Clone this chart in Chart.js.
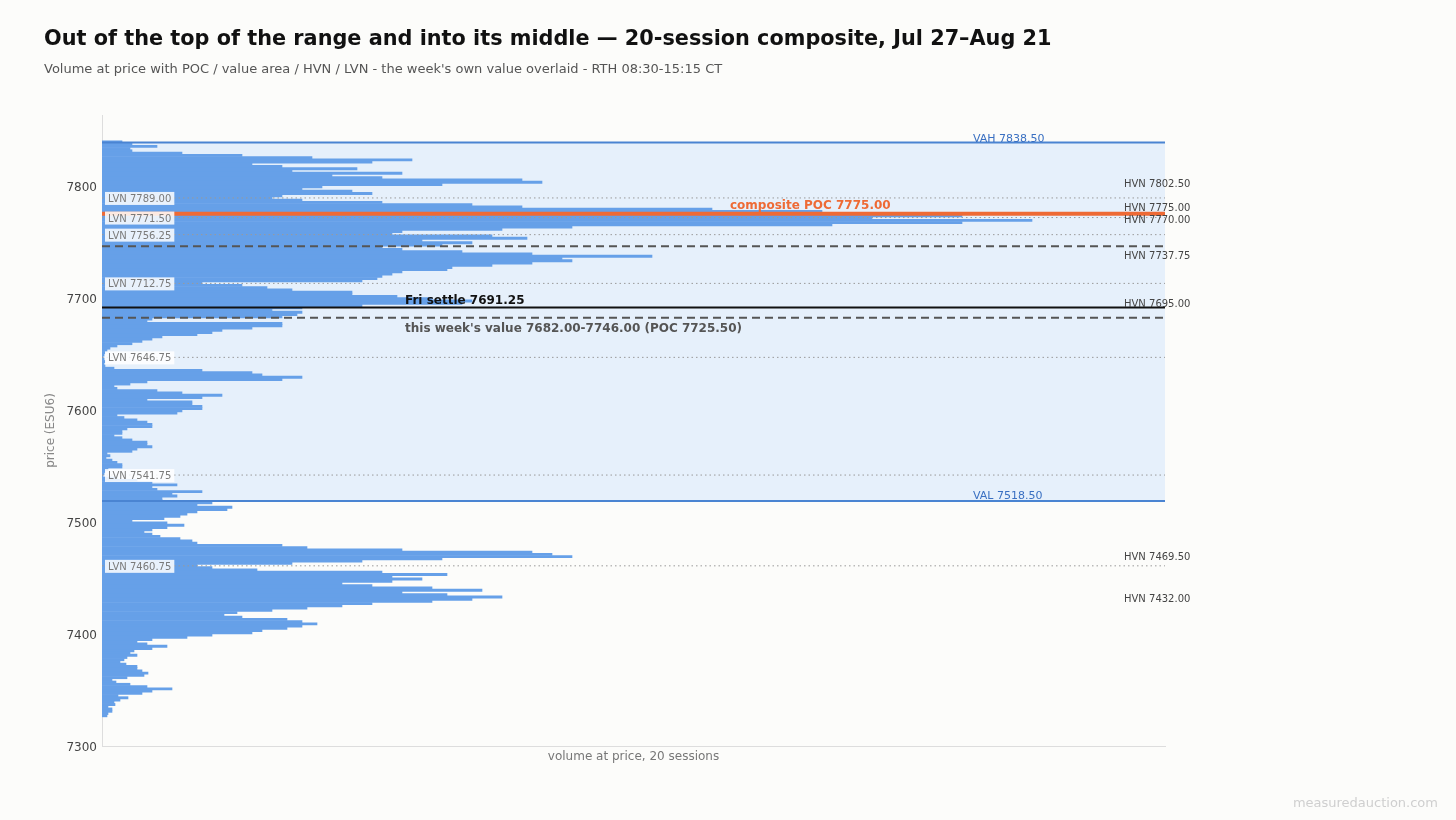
<!DOCTYPE html>
<html>
<head>
<meta charset="utf-8">
<script src="https://cdn.jsdelivr.net/npm/chart.js@4.4.1/dist/chart.umd.min.js"></script>
<style>
  html, body { margin: 0; padding: 0; background: #fcfcfa; }
  body { width: 1456px; height: 820px; position: relative; overflow: hidden; font-family: "DejaVu Sans", sans-serif; }
  #title { position: absolute; left: 44px; top: 27px; margin: 0; font-size: 20.8px; line-height: 22px; font-weight: bold; color: #111; white-space: nowrap; }
  #sub { position: absolute; left: 44px; top: 61px; margin: 0; font-size: 13px; line-height: 15px; color: #555; white-space: nowrap; }
  #mark { position: absolute; right: 18px; top: 795px; font-size: 13px; color: #cfcfcf; }
  #wrap { position: absolute; left: 0; top: 0; width: 1456px; height: 820px; }
</style>
</head>
<body>
<div id="wrap"><canvas id="c" width="1456" height="820"></canvas></div>
<h1 id="title">Out of the top of the range and into its middle — 20-session composite, Jul 27–Aug 21</h1>
<p id="sub">Volume at price with POC / value area / HVN / LVN - the week's own value overlaid - RTH 08:30-15:15 CT</p>
<div id="mark">measuredauction.com</div>
<script>
// price levels (2-pt rows), top to bottom
const priceLevels = [
  7839, 7837, 7835, 7833, 7831, 7829, 7827, 7825, 7823, 7821,
  7819, 7817, 7815, 7813, 7811, 7809, 7807, 7805, 7803, 7801,
  7799, 7797, 7795, 7793, 7791, 7789, 7787, 7785, 7783, 7781,
  7779, 7777, 7775, 7773, 7771, 7769, 7767, 7765, 7763, 7761,
  7759, 7757, 7755, 7753, 7751, 7749, 7747, 7745, 7743, 7741,
  7739, 7737, 7735, 7733, 7731, 7729, 7727, 7725, 7723, 7721,
  7719, 7717, 7715, 7713, 7711, 7709, 7707, 7705, 7703, 7701,
  7699, 7697, 7695, 7693, 7691, 7689, 7687, 7685, 7683, 7681,
  7679, 7677, 7675, 7673, 7671, 7669, 7667, 7665, 7663, 7661,
  7659, 7657, 7655, 7653, 7651, 7649, 7647, 7645, 7643, 7641,
  7639, 7637, 7635, 7633, 7631, 7629, 7627, 7625, 7623, 7621,
  7619, 7617, 7615, 7613, 7611, 7609, 7607, 7605, 7603, 7601,
  7599, 7597, 7595, 7593, 7591, 7589, 7587, 7585, 7583, 7581,
  7579, 7577, 7575, 7573, 7571, 7569, 7567, 7565, 7563, 7561,
  7559, 7557, 7555, 7553, 7551, 7549, 7547, 7545, 7543, 7541,
  7539, 7537, 7535, 7533, 7531, 7529, 7527, 7525, 7523, 7521,
  7519, 7517, 7515, 7513, 7511, 7509, 7507, 7505, 7503, 7501,
  7499, 7497, 7495, 7493, 7491, 7489, 7487, 7485, 7483, 7481,
  7479, 7477, 7475, 7473, 7471, 7469, 7467, 7465, 7463, 7461,
  7459, 7457, 7455, 7453, 7451, 7449, 7447, 7445, 7443, 7441,
  7439, 7437, 7435, 7433, 7431, 7429, 7427, 7425, 7423, 7421,
  7419, 7417, 7415, 7413, 7411, 7409, 7407, 7405, 7403, 7401,
  7399, 7397, 7395, 7393, 7391, 7389, 7387, 7385, 7383, 7381,
  7379, 7377, 7375, 7373, 7371, 7369, 7367, 7365, 7363, 7361,
  7359, 7357, 7355, 7353, 7351, 7349, 7347, 7345, 7343, 7341,
  7339, 7337, 7335, 7333, 7331, 7329, 7327
];

// composite volume at each level (same order)
const volumeAtPrice = [
   20,  30,  55,  28,  30,  80, 140, 210, 310, 270,
  150, 180, 255, 190, 300, 230, 280, 420, 440, 340,
  220, 200, 250, 270, 180, 170, 200, 280, 370, 420,
  610, 720, 935, 860, 770, 930, 860, 730, 470, 400,
  300, 290, 390, 425, 320, 370, 340, 280, 300, 360,
  430, 550, 460, 470, 430, 390, 350, 345, 300, 290,
  280, 275, 260, 100, 140, 165, 190, 250, 250, 295,
  330, 370, 360, 260, 200, 170, 200, 195, 180,  50,
   45, 180, 180, 150, 120, 110,  95,  60,  50,  40,
   30,  15,   8,   5,   3,   2,   1,   2,   3,   2,
    3,  12, 100, 150, 160, 200, 180,  45,  28,  12,
   15,  55,  80, 120, 100,  45,  90,  90, 100, 100,
   80,  75,  15,  22,  35,  45,  50,  50,  25,  20,
   20,  12,  20,  30,  45,  45,  50,  35,  30,   5,
    8,   4,  10,  15,  20,  20,   6,   3,   2,   1,
   15,  35,  50,  75,  50,  55, 100,  70,  75,  60,
   60, 110,  95, 130, 125,  95,  85,  78,  62,  30,
   65,  82,  65,  50,  42,  50,  58,  78,  90,  95,
  180, 205, 300, 430, 450, 470, 340, 260, 190,  95,
  110, 155, 280, 345, 290, 320, 290, 240, 270, 330,
  380, 300, 345, 400, 370, 330, 270, 240, 205, 170,
  135, 122, 140, 185, 200, 215, 200, 185, 160, 150,
  110,  85,  50,  35,  45,  65,  50,  32,  28,  35,
   25,  22,  18,  24,  35,  35,  40,  46,  42,  25,
   10,  14,  28,  45,  70,  50,  40,  16,  26,  18,
   12,  13,   6,  10,  10,   6,   5
];

const yTicks = [7300, 7400, 7500, 7600, 7700, 7800];

const valueArea = { vah: 7838.5, val: 7518.5 };
const compositePoc = 7775.0;
const friSettle = 7691.25;
const weekValue = { low: 7682.0, high: 7746.0, poc: 7725.5 };
const lvnLevels = [7789.00, 7771.50, 7756.25, 7712.75, 7646.75, 7541.75, 7460.75];
const hvnLevels = [7802.50, 7775.00, 7770.00, 7737.75, 7695.00, 7469.50, 7432.00];

const FONT = '"DejaVu Sans", sans-serif';

const overlay = {
  id: 'overlay',
  beforeDatasetsDraw(chart) {
    const { ctx, chartArea: a, scales: { y } } = chart;
    ctx.save();
    ctx.fillStyle = '#e6f0fb';
    const top = y.getPixelForValue(valueArea.vah), bot = y.getPixelForValue(valueArea.val);
    ctx.fillRect(a.left, top, a.right - a.left, bot - top);
    ctx.restore();
  },
  afterDatasetsDraw(chart) {
    const { ctx, chartArea: a, scales: { y } } = chart;
    const hline = (v, color, width, dash) => {
      const py = y.getPixelForValue(v);
      ctx.beginPath();
      ctx.setLineDash(dash || []);
      ctx.strokeStyle = color;
      ctx.lineWidth = width;
      ctx.moveTo(a.left, py);
      ctx.lineTo(a.right, py);
      ctx.stroke();
      return py;
    };
    const text = (s, x, py, color, font, base) => {
      ctx.setLineDash([]);
      ctx.fillStyle = color;
      ctx.font = font;
      ctx.textBaseline = base || 'middle';
      ctx.textAlign = 'left';
      ctx.fillText(s, x, py + 1.5);
    };
    ctx.save();

    // LVN dotted lines
    lvnLevels.forEach(v => hline(v, '#9a9a9a', 1, [1.5, 3]));

    // value area edges
    const vahY = hline(valueArea.vah, '#4a84d2', 2);
    const valY = hline(valueArea.val, '#4a84d2', 2);
    text('VAH ' + valueArea.vah.toFixed(2), 973, vahY - 5, '#3a70c2', '11px ' + FONT);
    text('VAL ' + valueArea.val.toFixed(2), 973, valY - 6, '#3a70c2', '11px ' + FONT);

    // this week's value
    hline(weekValue.high, '#555', 2, [8, 5]);
    const wkY = hline(weekValue.low, '#555', 2, [8, 5]);
    text("this week's value " + weekValue.low.toFixed(2) + '-' + weekValue.high.toFixed(2) +
      ' (POC ' + weekValue.poc.toFixed(2) + ')', 405, wkY + 10, '#555', 'bold 12px ' + FONT);

    // Friday settle
    const fsY = hline(friSettle, '#111', 2);
    text('Fri settle ' + friSettle.toFixed(2), 405, fsY - 8.5, '#111', 'bold 12px ' + FONT);

    // composite POC
    const pocY = hline(compositePoc, '#ee6a35', 4);
    text('composite POC ' + compositePoc.toFixed(2), 730, pocY - 9.5, '#ee6a35', 'bold 12px ' + FONT);

    // LVN labels with boxes
    ctx.font = '10px ' + FONT;
    lvnLevels.forEach(v => {
      const py = y.getPixelForValue(v);
      const s = 'LVN ' + v.toFixed(2);
      const w = ctx.measureText(s).width;
      ctx.fillStyle = 'rgba(255,255,255,0.85)';
      ctx.fillRect(a.left + 3, py - 6, w + 6, 13);
      text(s, a.left + 6, py, '#7a7a7a', '10px ' + FONT);
    });

    // HVN labels on the right
    hvnLevels.forEach(v => {
      let py = y.getPixelForValue(v);
      if (v === 7775) py -= 7;
      text('HVN ' + v.toFixed(2), 1124, py, '#444', '10px ' + FONT);
    });

    ctx.restore();
  }
};

new Chart(document.getElementById('c').getContext('2d'), {
  type: 'bar',
  data: {
    datasets: [{
      data: priceLevels.map((p, i) => ({ x: volumeAtPrice[i], y: p })),
      backgroundColor: '#66a0e8',
      borderWidth: 0,
      barPercentage: 1.0,
      categoryPercentage: 1.0
    }]
  },
  options: {
    indexAxis: 'y',
    responsive: false,
    animation: false,
    devicePixelRatio: 1,
    layout: { padding: { left: 40, right: 291, top: 115, bottom: 52 } },
    plugins: { legend: { display: false }, tooltip: { enabled: false } },
    scales: {
      y: {
        type: 'linear',
        min: 7300,
        max: 7863,
        offset: false,
        afterFit(s) { s.width = 62; },
        afterBuildTicks(s) { s.ticks = yTicks.map(v => ({ value: v })); },
        ticks: { padding: 5, labelOffset: 2, color: '#444', font: { family: FONT, size: 12 }, callback: v => String(v) },
        grid: { display: false, drawTicks: false },
        border: { color: '#dddddd', width: 1 },
        title: { display: true, text: 'price (ESU6)', color: '#888', font: { family: FONT, size: 12 } }
      },
      x: {
        type: 'linear',
        min: 0,
        max: 1063,
        afterFit(s) { s.height = 22; },
        ticks: { display: false },
        grid: { display: false, drawTicks: false },
        border: { color: '#dddddd', width: 1 },
        title: { display: true, text: 'volume at price, 20 sessions', color: '#777', font: { family: FONT, size: 12 } }
      }
    }
  },
  plugins: [overlay]
});
</script>
</body>
</html>
